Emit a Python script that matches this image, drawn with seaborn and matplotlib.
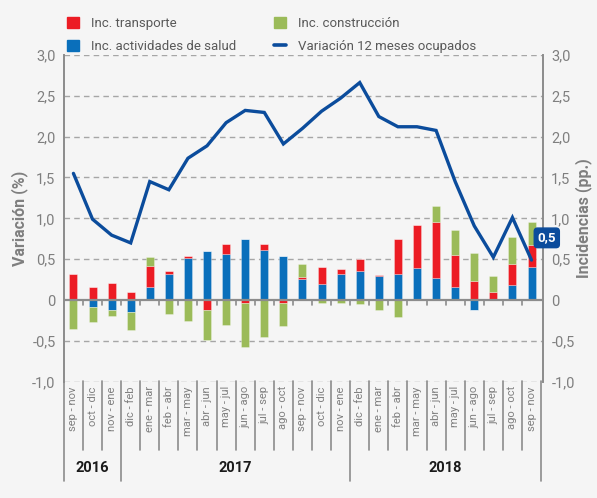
import numpy as np
import pandas as pd
import seaborn as sns
import matplotlib.pyplot as plt
import matplotlib.transforms as mtrans
from matplotlib.patches import Patch
from matplotlib.lines import Line2D

# categorias (trimestres moviles) y anios
periodos = ["sep - nov", "oct - dic", "nov - ene",
            "dic - feb", "ene - mar", "feb - abr", "mar - may", "abr - jun", "may - jul",
            "jun - ago", "jul - sep", "ago - oct", "sep - nov", "oct - dic", "nov - ene",
            "dic - feb", "ene - mar", "feb - abr", "mar - may", "abr - jun", "may - jul",
            "jun - ago", "jul - sep", "ago - oct", "sep - nov"]
anios = ["2016", "2017", "2018"]
n_por_anio = [3, 12, 10]

# incidencias (pp.)
salud = [0.01, -0.08, -0.12, -0.14, 0.155, 0.32, 0.52, 0.60, 0.56, 0.75, 0.61, 0.54,
         0.255, 0.195, 0.32, 0.36, 0.29, 0.32, 0.39, 0.275, 0.165, -0.12, 0.0, 0.18, 0.40]
transporte = [0.31, 0.16, 0.21, 0.10, 0.265, 0.04, 0.02, -0.12, 0.13, -0.04, 0.08, -0.04,
              0.03, 0.215, 0.06, 0.145, 0.015, 0.425, 0.53, 0.675, 0.39, 0.235, 0.10, 0.265, 0.275]
construccion = [-0.35, -0.19, -0.075, -0.23, 0.11, -0.17, -0.25, -0.37, -0.30, -0.53, -0.445, -0.27,
                0.155, -0.03, -0.03, -0.045, -0.12, -0.21, 0.0, 0.205, 0.30, 0.345, 0.19, 0.33, 0.285]
# variacion 12 meses ocupados (%)
variacion = [1.55, 0.99, 0.795, 0.70, 1.45, 1.35, 1.735, 1.887, 2.17, 2.32, 2.295, 1.91,
             2.10, 2.31, 2.47, 2.66, 2.245, 2.12, 2.12, 2.075, 1.45, 0.908, 0.525, 1.01, 0.49]

df = pd.DataFrame({"periodo": periodos, "salud": salud, "transporte": transporte,
                   "construccion": construccion, "variacion": variacion})
df["x"] = np.arange(len(df))

ROJO = "#ec1c24"
AZUL = "#0a6fbb"
VERDE = "#9bbb59"
LINEA = "#0b4c9c"
GRIS = "#7f7f7f"
FONDO = "#f5f5f5"

sns.set_style("white")
plt.rcParams['font.family'] = ['Roboto', 'DejaVu Sans']

fig = plt.figure(figsize=(5.97, 4.98), dpi=100, facecolor=FONDO)
ax = fig.add_axes([0.107, 0.233, 0.8025, 0.657])
ax.set_facecolor(FONDO)

# barras apiladas (positivos y negativos por separado)
pos_base = np.zeros(len(df))
neg_base = np.zeros(len(df))
for col, color in [("salud", AZUL), ("transporte", ROJO), ("construccion", VERDE)]:
    v = df[col].values
    pos = np.where(v > 0, v, 0)
    neg = np.where(v < 0, v, 0)
    ax.bar(df["x"], pos, bottom=pos_base, width=0.42, color=color,
           edgecolor=(1, 1, 1, 0.4), linewidth=0.5, zorder=3)
    ax.bar(df["x"], neg, bottom=neg_base, width=0.42, color=color,
           edgecolor=(1, 1, 1, 0.4), linewidth=0.5, zorder=3)
    pos_base += pos
    neg_base += neg

sns.lineplot(data=df, x="x", y="variacion", ax=ax, color=LINEA, lw=2.4, zorder=5,
             solid_joinstyle="miter")

ax.set_xlim(-0.5, 24.6)
ax.set_ylim(-1.0, 3.0)
yt = np.arange(-1.0, 3.01, 0.5)
fmt = lambda v: "0" if abs(v) < 1e-9 else f"{v:.1f}".replace(".", ",")
ax.set_yticks(yt)
ax.set_yticklabels([fmt(v) for v in yt])
for v in yt:
    if abs(v) > 1e-9:
        ax.axhline(v, color="#a6a6a6", lw=1.0, ls=(0, (4, 3)), zorder=1)
ax.axhline(0, color="#8c8c8c", lw=1.6, zorder=4)

# marcas pequenas bajo la linea de cero
for k in range(1, 25):
    ax.plot([k - 0.5, k - 0.5], [0, -0.055], color="#8c8c8c", lw=1.2, zorder=4)

for s in ["top", "bottom"]:
    ax.spines[s].set_visible(False)
for s in ["left", "right"]:
    ax.spines[s].set_color("#8c8c8c")
    ax.spines[s].set_linewidth(1.4)

ax.tick_params(axis="y", length=0, labelsize=10.5, labelcolor=GRIS, pad=6)
ax.set_xticks(df["x"])
ax.set_xticklabels(df["periodo"], rotation=90, fontsize=8, color=GRIS)
ax.tick_params(axis="x", length=0, pad=3)
ax.set_xlabel("")
ax.set_ylabel("")

ax2 = ax.twinx()
ax2.set_ylim(-1.0, 3.0)
ax2.set_yticks(yt)
ax2.set_yticklabels([fmt(v) for v in yt])
ax2.tick_params(axis="y", length=0, labelsize=10.5, labelcolor=GRIS, pad=6)
for s in ax2.spines.values():
    s.set_visible(False)

# separadores de categorias y anios
tr = mtrans.blended_transform_factory(ax.transData, fig.transFigure)
fronteras = np.cumsum([0] + n_por_anio) - 0.5
for k in range(26):
    b = k - 0.5
    y_fin = 0.034 if b in fronteras else 0.096
    ax.add_line(Line2D([b, b], [0.235, y_fin], transform=tr, color="#8c8c8c",
                       lw=1.2, clip_on=False))
for i, a in enumerate(anios):
    xc = (fronteras[i] + fronteras[i + 1]) / 2
    ax.text(xc, 0.06, a, transform=tr, ha="center", va="center",
            fontsize=10.5, fontweight="bold", color="#1a1a1a")

# etiqueta ultimo valor
ax.annotate("0,5", xy=(24, variacion[-1]), xytext=(11, 16), textcoords="offset points",
            ha="center", va="center", color="white", fontsize=9.5, fontweight="bold",
            bbox=dict(boxstyle="round,pad=0.25", fc=LINEA, ec=LINEA),
            zorder=6, annotation_clip=False)

fig.text(0.032, 0.562, "Variación (%)", rotation=90, ha="center", va="center",
         fontsize=11.5, fontweight="bold", color=GRIS)
fig.text(0.978, 0.562, "Incidencias (pp.)", rotation=90, ha="center", va="center",
         fontsize=11.5, fontweight="bold", color=GRIS)

handles = [Patch(color=ROJO, label="Inc. transporte"),
           Patch(color=AZUL, label="Inc. actividades de salud"),
           Patch(color=VERDE, label="Inc. construcción"),
           Line2D([], [], color=LINEA, lw=2.6, label="Variación 12 meses ocupados")]
fig.legend(handles=handles, loc="upper left", bbox_to_anchor=(0.092, 0.99), ncol=2,
           frameon=False, fontsize=9.5, handlelength=0.9, handleheight=0.9,
           columnspacing=2.9, labelspacing=0.75, handletextpad=0.9,
           labelcolor="#595959")

fig.savefig("out.png", dpi=100, facecolor=FONDO)
